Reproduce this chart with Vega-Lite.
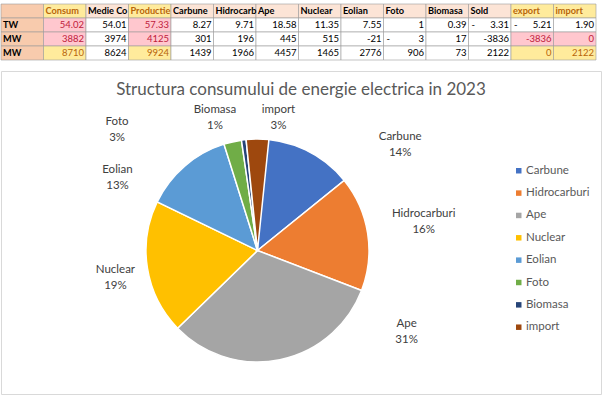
{
  "$schema": "https://vega.github.io/schema/vega-lite/v6.json",
  "padding": {"left": 0, "top": 3, "right": 0, "bottom": 0},
  "spacing": 9,
  "background": "white",
  "config": {"font": "Lato", "view": {"stroke": null}},
  "datasets": {
    "table": [
      {"r": 0, "c": "_", "t": ""}, {"r": 0, "c": "Consum", "t": "Consum"}, {"r": 0, "c": "Medie", "t": "Medie Consum"}, {"r": 0, "c": "Productie", "t": "Productie"}, {"r": 0, "c": "Carbune", "t": "Carbune"}, {"r": 0, "c": "Hidrocarburi", "t": "Hidrocarburi"}, {"r": 0, "c": "Ape", "t": "Ape"}, {"r": 0, "c": "Nuclear", "t": "Nuclear"}, {"r": 0, "c": "Eolian", "t": "Eolian"}, {"r": 0, "c": "Foto", "t": "Foto"}, {"r": 0, "c": "Biomasa", "t": "Biomasa"}, {"r": 0, "c": "Sold", "t": "Sold"}, {"r": 0, "c": "export", "t": "export"}, {"r": 0, "c": "import", "t": "import"},
      {"r": 1, "c": "_", "t": "TW"}, {"r": 1, "c": "Consum", "t": "54.02"}, {"r": 1, "c": "Medie", "t": "54.01"}, {"r": 1, "c": "Productie", "t": "57.33"}, {"r": 1, "c": "Carbune", "t": "8.27"}, {"r": 1, "c": "Hidrocarburi", "t": "9.71"}, {"r": 1, "c": "Ape", "t": "18.58"}, {"r": 1, "c": "Nuclear", "t": "11.35"}, {"r": 1, "c": "Eolian", "t": "7.55"}, {"r": 1, "c": "Foto", "t": "1"}, {"r": 1, "c": "Biomasa", "t": "0.39"}, {"r": 1, "c": "Sold", "t": "3.31", "neg": true}, {"r": 1, "c": "export", "t": "5.21", "neg": true}, {"r": 1, "c": "import", "t": "1.90"},
      {"r": 2, "c": "_", "t": "MW"}, {"r": 2, "c": "Consum", "t": "3882"}, {"r": 2, "c": "Medie", "t": "3974"}, {"r": 2, "c": "Productie", "t": "4125"}, {"r": 2, "c": "Carbune", "t": "301"}, {"r": 2, "c": "Hidrocarburi", "t": "196"}, {"r": 2, "c": "Ape", "t": "445"}, {"r": 2, "c": "Nuclear", "t": "515"}, {"r": 2, "c": "Eolian", "t": "-21"}, {"r": 2, "c": "Foto", "t": "3", "neg": true}, {"r": 2, "c": "Biomasa", "t": "17"}, {"r": 2, "c": "Sold", "t": "-3836"}, {"r": 2, "c": "export", "t": "-3836"}, {"r": 2, "c": "import", "t": "0"},
      {"r": 3, "c": "_", "t": "MW"}, {"r": 3, "c": "Consum", "t": "8710"}, {"r": 3, "c": "Medie", "t": "8624"}, {"r": 3, "c": "Productie", "t": "9924"}, {"r": 3, "c": "Carbune", "t": "1439"}, {"r": 3, "c": "Hidrocarburi", "t": "1966"}, {"r": 3, "c": "Ape", "t": "4457"}, {"r": 3, "c": "Nuclear", "t": "1465"}, {"r": 3, "c": "Eolian", "t": "2776"}, {"r": 3, "c": "Foto", "t": "906"}, {"r": 3, "c": "Biomasa", "t": "73"}, {"r": 3, "c": "Sold", "t": "2122"}, {"r": 3, "c": "export", "t": "0"}, {"r": 3, "c": "import", "t": "2122"}
    ],
    "pie": [
      {"cat": "Carbune", "v": 8.27, "lab": "Carbune\n14%"},
      {"cat": "Hidrocarburi", "v": 9.71, "lab": "Hidrocarburi\n16%"},
      {"cat": "Ape", "v": 18.58, "lab": "Ape\n31%"},
      {"cat": "Nuclear", "v": 11.35, "lab": "Nuclear\n19%"},
      {"cat": "Eolian", "v": 7.55, "lab": "Eolian\n13%"},
      {"cat": "Foto", "v": 1.49, "lab": "Foto\n3%"},
      {"cat": "Biomasa", "v": 0.39, "lab": "Biomasa\n1%"},
      {"cat": "import", "v": 1.9, "lab": "import\n3%"}
    ]
  },
  "vconcat": [
    {
      "width": 595,
      "height": 56,
      "data": {"name": "table"},
      "encoding": {
        "x": {"field": "c", "type": "nominal", "sort": null, "axis": null,
              "scale": {"domain": ["_", "Consum", "Medie", "Productie", "Carbune", "Hidrocarburi", "Ape", "Nuclear", "Eolian", "Foto", "Biomasa", "Sold", "export", "import"], "paddingInner": 0, "paddingOuter": 0}},
        "y": {"field": "r", "type": "ordinal", "axis": null, "scale": {"domain": [0, 1, 2, 3], "paddingInner": 0, "paddingOuter": 0}}
      },
      "layer": [
        {
          "mark": {"type": "rect", "stroke": "#9A9A9A", "strokeWidth": 0.6},
          "encoding": {
            "fill": {
              "condition": [
                {"test": "datum.c === '_'", "value": "#F8CBAD"},
                {"test": "datum.r === 0 && indexof(['Consum','Productie','export','import'], datum.c) >= 0", "value": "#FFEB9C"},
                {"test": "datum.r === 0", "value": "#FCE4D6"},
                {"test": "(datum.r === 1 || datum.r === 2) && (datum.c === 'Consum' || datum.c === 'Productie')", "value": "#FFC7CE"},
                {"test": "datum.r === 2 && (datum.c === 'export' || datum.c === 'import')", "value": "#FFC7CE"},
                {"test": "datum.r === 3 && indexof(['Consum','Productie','export','import'], datum.c) >= 0", "value": "#FFEB9C"}
              ],
              "value": "white"
            }
          }
        },
        {
          "transform": [{"filter": "datum.r === 0 || datum.c === '_'"}],
          "mark": {"type": "text", "align": "left", "baseline": "middle", "dx": 2, "fontSize": 9.2, "fontWeight": "bold", "limit": 41, "ellipsis": "\u200b"},
          "encoding": {
            "x": {"field": "c", "type": "nominal", "bandPosition": 0},
            "text": {"field": "t"},
            "color": {
              "condition": {"test": "datum.r === 0 && indexof(['Consum','Productie','export','import'], datum.c) >= 0", "value": "#B8650A"},
              "value": "#000000"
            }
          }
        },
        {
          "transform": [{"filter": "datum.r > 0 && datum.c !== '_'"}],
          "mark": {"type": "text", "align": "right", "baseline": "middle", "dx": -2, "fontSize": 9.5},
          "encoding": {
            "x": {"field": "c", "type": "nominal", "bandPosition": 1},
            "text": {"field": "t"},
            "color": {
              "condition": [
                {"test": "(datum.r === 1 || datum.r === 2) && (datum.c === 'Consum' || datum.c === 'Productie')", "value": "#C0203C"},
                {"test": "datum.r === 2 && (datum.c === 'export' || datum.c === 'import')", "value": "#C0203C"},
                {"test": "datum.r === 3 && indexof(['Consum','Productie','export','import'], datum.c) >= 0", "value": "#B8650A"}
              ],
              "value": "#000000"
            }
          }
        },
        {
          "transform": [{"filter": "datum.neg === true"}],
          "mark": {"type": "text", "align": "left", "baseline": "middle", "dx": 3, "fontSize": 9.5, "color": "#000000"},
          "encoding": {
            "x": {"field": "c", "type": "nominal", "bandPosition": 0},
            "text": {"value": "-"}
          }
        }
      ]
    },
    {
      "width": 600,
      "height": 323,
      "view": {"stroke": "#D9D9D9"},
      "title": {"text": "Structura consumului de energie electrica in 2023", "font": "Lato", "fontSize": 17, "fontWeight": "normal", "color": "#595959", "anchor": "middle", "frame": "group", "baseline": "alphabetic", "offset": -41},
      "data": {"name": "pie"},
      "transform": [
        {"window": [{"op": "row_number", "as": "i"}]},
        {"stack": "v", "groupby": [], "sort": [{"field": "i", "order": "ascending"}], "as": ["v0", "v1"]}
      ],
      "encoding": {
        "x": {"datum": 0, "type": "quantitative", "axis": null, "scale": {"domain": [-256.5, 343.5], "nice": false, "zero": false}},
        "y": {"datum": 0, "type": "quantitative", "axis": null, "scale": {"domain": [-143.5, 179.5], "nice": false, "zero": false}}
      },
      "layer": [
        {
          "mark": {"type": "arc", "outerRadius": 111.5, "stroke": "white", "strokeWidth": 1.5},
          "encoding": {
            "theta": {"field": "v0", "type": "quantitative", "stack": null, "scale": {"zero": true, "nice": false}},
            "theta2": {"field": "v1"},
            "color": {"field": "cat", "type": "nominal",
              "scale": {"domain": ["Carbune", "Hidrocarburi", "Ape", "Nuclear", "Eolian", "Foto", "Biomasa", "import"],
                        "range": ["#4472C4", "#ED7D31", "#A5A5A5", "#FFC000", "#5B9BD5", "#70AD47", "#264478", "#9E480E"]},
              "legend": {"title": null, "orient": "none", "legendX": 512, "legendY": 161, "symbolType": "square", "symbolSize": 30, "symbolStrokeWidth": 0, "labelFont": "Lato", "labelFontSize": 11.5, "labelColor": "#595959", "rowPadding": 9.35, "labelOffset": 1.5, "padding": 0}}
          }
        },
        {"transform": [{"filter": "datum.cat === 'Carbune'"}, {"fold": ["v0", "v1"], "as": ["k", "b"]}, {"aggregate": [{"op": "mean", "field": "b", "as": "mid"}], "groupby": ["cat", "lab"]}],
         "mark": {"type": "text", "radius": 150, "dx": 78, "dy": 22, "fontSize": 11.5, "color": "#404040", "lineBreak": "\n", "lineHeight": 16, "align": "center", "baseline": "middle"},
         "encoding": {"theta": {"field": "mid", "type": "quantitative", "stack": null}, "text": {"field": "lab"}}},
        {"transform": [{"filter": "datum.cat === 'Hidrocarburi'"}, {"fold": ["v0", "v1"], "as": ["k", "b"]}, {"aggregate": [{"op": "mean", "field": "b", "as": "mid"}], "groupby": ["cat", "lab"]}],
         "mark": {"type": "text", "radius": 150, "dx": 18, "dy": -13, "fontSize": 11.5, "color": "#404040", "lineBreak": "\n", "lineHeight": 16, "align": "center", "baseline": "middle"},
         "encoding": {"theta": {"field": "mid", "type": "quantitative", "stack": null}, "text": {"field": "lab"}}},
        {"transform": [{"filter": "datum.cat === 'Ape'"}, {"fold": ["v0", "v1"], "as": ["k", "b"]}, {"aggregate": [{"op": "mean", "field": "b", "as": "mid"}], "groupby": ["cat", "lab"]}],
         "mark": {"type": "text", "radius": 150, "dx": 119, "dy": -73, "fontSize": 11.5, "color": "#404040", "lineBreak": "\n", "lineHeight": 16, "align": "center", "baseline": "middle"},
         "encoding": {"theta": {"field": "mid", "type": "quantitative", "stack": null}, "text": {"field": "lab"}}},
        {"transform": [{"filter": "datum.cat === 'Nuclear'"}, {"fold": ["v0", "v1"], "as": ["k", "b"]}, {"aggregate": [{"op": "mean", "field": "b", "as": "mid"}], "groupby": ["cat", "lab"]}],
         "mark": {"type": "text", "radius": 150, "dx": 6, "dy": -4, "fontSize": 11.5, "color": "#404040", "lineBreak": "\n", "lineHeight": 16, "align": "center", "baseline": "middle"},
         "encoding": {"theta": {"field": "mid", "type": "quantitative", "stack": null}, "text": {"field": "lab"}}},
        {"transform": [{"filter": "datum.cat === 'Eolian'"}, {"fold": ["v0", "v1"], "as": ["k", "b"]}, {"aggregate": [{"op": "mean", "field": "b", "as": "mid"}], "groupby": ["cat", "lab"]}],
         "mark": {"type": "text", "radius": 150, "dx": -42, "dy": 33, "fontSize": 11.5, "color": "#404040", "lineBreak": "\n", "lineHeight": 16, "align": "center", "baseline": "middle"},
         "encoding": {"theta": {"field": "mid", "type": "quantitative", "stack": null}, "text": {"field": "lab"}}},
        {"transform": [{"filter": "datum.cat === 'Foto'"}, {"fold": ["v0", "v1"], "as": ["k", "b"]}, {"aggregate": [{"op": "mean", "field": "b", "as": "mid"}], "groupby": ["cat", "lab"]}],
         "mark": {"type": "text", "radius": 150, "dx": -107, "dy": 18, "fontSize": 11.5, "color": "#404040", "lineBreak": "\n", "lineHeight": 16, "align": "center", "baseline": "middle"},
         "encoding": {"theta": {"field": "mid", "type": "quantitative", "stack": null}, "text": {"field": "lab"}}},
        {"transform": [{"filter": "datum.cat === 'Biomasa'"}, {"fold": ["v0", "v1"], "as": ["k", "b"]}, {"aggregate": [{"op": "mean", "field": "b", "as": "mid"}], "groupby": ["cat", "lab"]}],
         "mark": {"type": "text", "radius": 150, "dx": -24, "dy": 8, "fontSize": 11.5, "color": "#404040", "lineBreak": "\n", "lineHeight": 16, "align": "center", "baseline": "middle"},
         "encoding": {"theta": {"field": "mid", "type": "quantitative", "stack": null}, "text": {"field": "lab"}}},
        {"transform": [{"filter": "datum.cat === 'import'"}, {"fold": ["v0", "v1"], "as": ["k", "b"]}, {"aggregate": [{"op": "mean", "field": "b", "as": "mid"}], "groupby": ["cat", "lab"]}],
         "mark": {"type": "text", "radius": 150, "dx": 21, "dy": 9, "fontSize": 11.5, "color": "#404040", "lineBreak": "\n", "lineHeight": 16, "align": "center", "baseline": "middle"},
         "encoding": {"theta": {"field": "mid", "type": "quantitative", "stack": null}, "text": {"field": "lab"}}}
      ]
    }
  ]
}
